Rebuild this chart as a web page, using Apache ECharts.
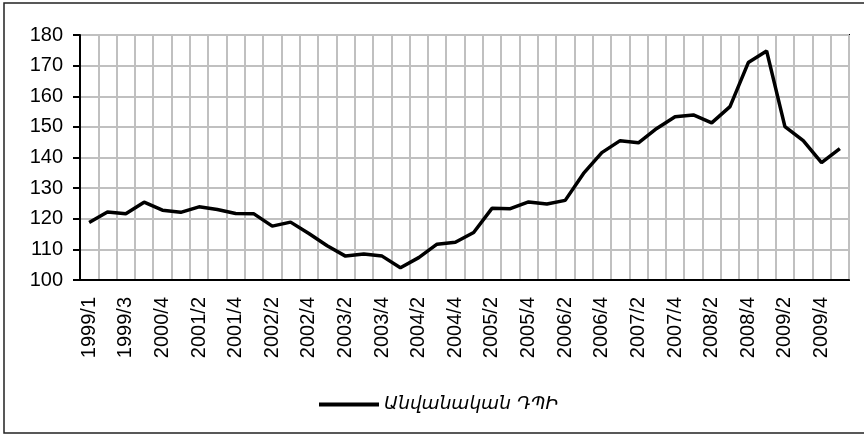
<!DOCTYPE html>
<html>
<head>
<meta charset="utf-8">
<script src="https://cdn.jsdelivr.net/npm/echarts@6/dist/echarts.min.js"></script>
<style>
  html, body { margin: 0; padding: 0; background: #fff; }
  #main { width: 864px; height: 435px; }
</style>
</head>
<body>
<div id="main"></div>
<script>
// quarters (only every second one is labelled on the axis)
const quarters = [
  '1999/1', '1999/2', '1999/3', '1999/4', '2000/4', '2001/1', '2001/2', '2001/3',
  '2001/4', '2002/1', '2002/2', '2002/3', '2002/4', '2003/1', '2003/2', '2003/3',
  '2003/4', '2004/1', '2004/2', '2004/3', '2004/4', '2005/1', '2005/2', '2005/3',
  '2005/4', '2006/1', '2006/2', '2006/3', '2006/4', '2007/1', '2007/2', '2007/3',
  '2007/4', '2008/1', '2008/2', '2008/3', '2008/4', '2009/1', '2009/2', '2009/3',
  '2009/4', '2010/1'
];

// Անվանական ԴՊԻ
const nominalValues = [
  118.8, 122.2, 121.6, 125.4, 122.8, 122.1, 123.9, 123.0,
  121.7, 121.6, 117.6, 118.9, 115.2, 111.2, 107.8, 108.5,
  107.8, 104.0, 107.3, 111.7, 112.3, 115.5, 123.4, 123.3,
  125.5, 124.8, 126.0, 134.8, 141.6, 145.5, 144.8, 149.5,
  153.3, 153.9, 151.3, 156.6, 171.0, 174.8, 150.1, 145.5,
  138.3, 142.9
];

const seriesName = 'Անվանական ԴՊԻ';

const chart = echarts.init(document.getElementById('main'));

chart.setOption({
  animation: false,
  backgroundColor: '#fff',
  graphic: [{
    type: 'rect',
    shape: { x: 4, y: 3, width: 880, height: 430 },
    style: { fill: 'none', stroke: '#222', lineWidth: 1.5 },
    silent: true
  }],
  grid: {
    left: 80, top: 35, width: 769, height: 245,
    show: true, borderColor: '#000', borderWidth: 2, backgroundColor: 'transparent'
  },
  legend: {
    left: 314, top: 390,
    itemWidth: 60, itemHeight: 4, itemGap: 11,
    icon: 'rect',
    data: [seriesName],
    textStyle: {
      fontFamily: 'DejaVu Sans', fontStyle: 'italic', fontSize: 18.5, color: '#000'
    }
  },
  xAxis: {
    type: 'category',
    data: quarters,
    boundaryGap: true,
    axisLine: { lineStyle: { color: '#000', width: 2 } },
    axisTick: { show: false },
    splitLine: { show: true, interval: 0, lineStyle: { color: '#c0c0c0', width: 2 } },
    axisLabel: {
      interval: 1, rotate: 90, margin: 17,
      fontFamily: 'Liberation Sans', fontSize: 20, color: '#000'
    }
  },
  yAxis: {
    type: 'value',
    min: 100, max: 180, interval: 10,
    axisLine: { show: true, lineStyle: { color: '#000', width: 2 } },
    axisTick: { show: true, length: 7, lineStyle: { color: '#000', width: 2 } },
    splitLine: { lineStyle: { color: '#c0c0c0', width: 2 } },
    axisLabel: {
      margin: 17, fontFamily: 'Liberation Sans', fontSize: 20, color: '#000'
    }
  },
  series: [{
    name: seriesName,
    type: 'line',
    data: nominalValues,
    symbol: 'none',
    lineStyle: { color: '#000', width: 3.5 },
    itemStyle: { color: '#000' }
  }]
});
</script>
</body>
</html>
